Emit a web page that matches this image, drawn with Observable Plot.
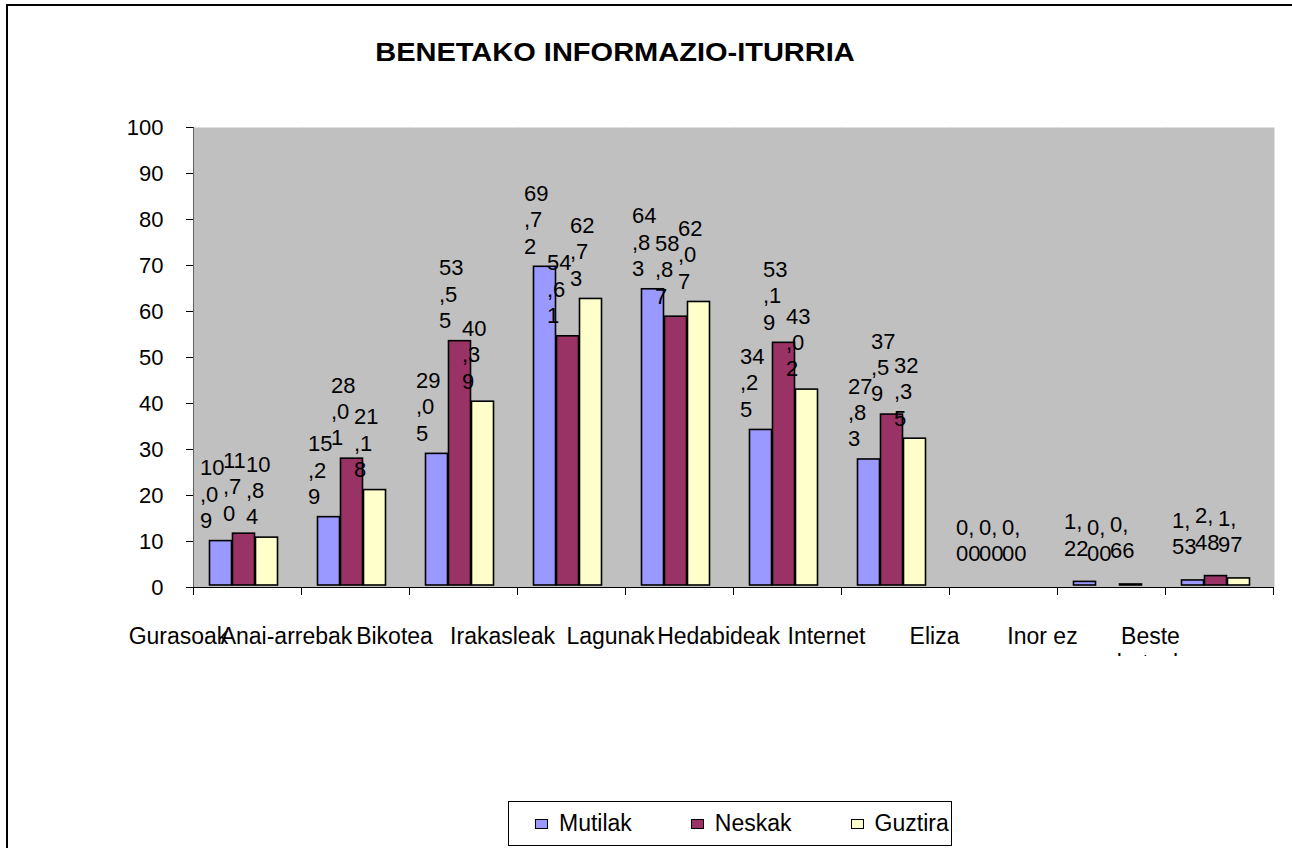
<!DOCTYPE html>
<html>
<head>
<meta charset="utf-8">
<script src="https://cdn.jsdelivr.net/npm/d3@7"></script>
<script src="https://cdn.jsdelivr.net/npm/@observablehq/plot@0.6"></script>
<style>
  html, body { margin: 0; padding: 0; background: #fff; overflow: hidden; width: 1292px; height: 848px; }
  body { font-family: "Liberation Sans", Arial, sans-serif; color: #000; position: relative; }
  #frame { position: absolute; left: 6px; top: 4px; width: 1400px; height: 1000px; border-left: 2px solid #000; border-top: 2px solid #000; }
  #title { position: absolute; left: 0; top: 37px; width: 1230px; text-align: center; font-weight: bold; font-size: 25px; line-height: 30px; transform: scaleX(1.16); white-space: nowrap; }
  #chart { position: absolute; left: 0; top: 100px; }
  #legend { position: absolute; left: 508px; top: 801px; width: 444px; height: 45px; border: 1px solid #000; box-sizing: border-box; overflow: hidden; display: flex; align-items: center; padding-left: 26px; font-size: 23px; white-space: nowrap; }
  #legend .item { display: flex; align-items: center; margin-right: 59px; }
  #legend .sw { width: 11px; height: 8px; border: 1.5px solid #000; margin-right: 11px; }
</style>
</head>
<body>
<div id="frame"></div>
<div id="title">BENETAKO INFORMAZIO-ITURRIA</div>
<div id="chart"></div>
<div id="legend"></div>
<script>
const categories = ["Gurasoak", "Anai-arrebak", "Bikotea", "Irakasleak", "Lagunak", "Hedabideak", "Internet", "Eliza", "Inor ez", "Beste batzuk"];
const series = ["Mutilak", "Neskak", "Guztira"];
const mutilak = [10.09, 15.29, 29.05, 69.72, 64.83, 34.25, 27.83, 0.00, 1.22, 1.53];
const neskak  = [11.70, 28.01, 53.55, 54.61, 58.87, 53.19, 37.59, 0.00, 0.00, 2.48];
const guztira = [10.84, 21.18, 40.39, 62.73, 62.07, 43.02, 32.35, 0.00, 0.66, 1.97];
const colors = ["#9999FF", "#993366", "#FFFFCC"];
const yTicks = [0, 10, 20, 30, 40, 50, 60, 70, 80, 90, 100];

const seriesValues = [mutilak, neskak, guztira];
const data = categories.flatMap((cat, i) =>
  series.map((s, j) => ({cat, series: s, value: seriesValues[j][i]}))
);

// Excel-style narrow wrapping of the value labels: 2 characters per line, decimal comma
const fmt = v => v.toFixed(2).replace(".", ",").match(/.{1,2}/g).join("\n");

const W = 1292, H = 556, mTop = 27, mBottom = 69;
const innerH = H - mTop - mBottom;

const chart = Plot.plot({
  width: W,
  height: H,
  marginTop: mTop,
  marginBottom: mBottom,
  marginLeft: 188.5,
  marginRight: 14.5,
  style: {
    fontFamily: "'Liberation Sans', Arial, sans-serif",
    fontSize: "22px",
    color: "#000",
    background: "transparent",
    overflow: "hidden"
  },
  fx: {domain: categories, padding: 0, axis: null, label: null},
  x: {domain: series, paddingInner: 0.04, paddingOuter: 0.84, align: 0.41, axis: null},
  y: {domain: [0, 100], ticks: yTicks, tickSize: 7, tickPadding: 23, label: null, line: true},
  color: {domain: series, range: colors},
  marks: [
    Plot.frame({fill: "#C0C0C0", stroke: "none", insetRight: -1}),
    Plot.frame({anchor: "left", stroke: "#000", insetTop: innerH, insetBottom: -7}),
    Plot.frame({anchor: "right", stroke: "#000", insetTop: innerH, insetBottom: -7}),
    Plot.ruleY([0], {stroke: "#000", strokeWidth: 1}),
    Plot.barY(data, {
      fx: "cat", x: "series", y: "value", fill: "series",
      stroke: "#000", strokeWidth: 1.6, insetBottom: 2
    }),
    Plot.text(data, {
      fx: "cat", x: "series", y: "value",
      text: d => fmt(d.value),
      textAnchor: "start", lineAnchor: "middle",
      dx: -21, dy: -48, lineHeight: 1.2,
      fontSize: 22, fill: "#000"
    }),
    Plot.text(categories, {
      fx: d => d,
      text: d => d.length > 8 ? d.replace(" ", "\n") : d,
      frameAnchor: "bottom", lineAnchor: "top",
      dx: -69, dy: 38, lineHeight: 1.15,
      fontSize: 23, fill: "#000"
    })
  ]
});
document.getElementById("chart").appendChild(chart);

const legend = document.getElementById("legend");
series.forEach((s, i) => {
  const item = document.createElement("div");
  item.className = "item";
  const sw = document.createElement("span");
  sw.className = "sw";
  sw.style.background = colors[i];
  const lab = document.createElement("span");
  lab.textContent = s;
  item.appendChild(sw);
  item.appendChild(lab);
  legend.appendChild(item);
});
</script>
</body>
</html>
